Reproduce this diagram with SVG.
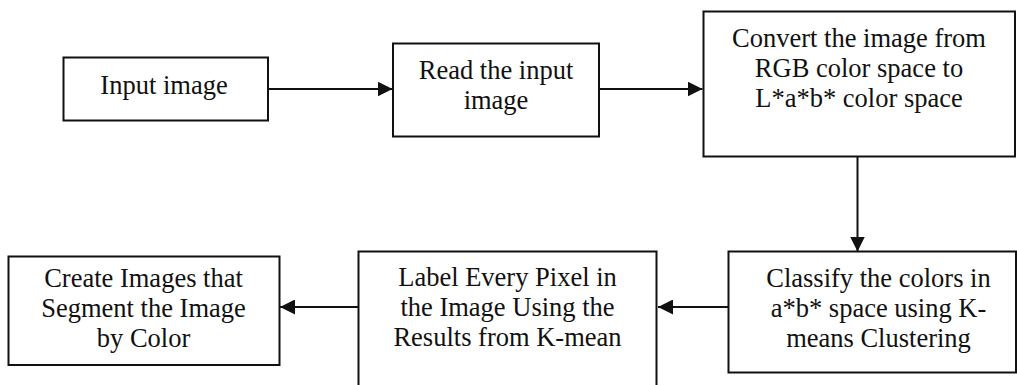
<svg xmlns="http://www.w3.org/2000/svg" width="1017" height="385" viewBox="0 0 1017 385">
  <style>
    .box { fill: #ffffff; stroke: #111111; stroke-width: 2; }
    .lbl { font-family: "Liberation Serif", "Times New Roman", serif; font-size: 26.5px; fill: #111111; text-anchor: middle; }
    .edge { fill: none; stroke: #111111; stroke-width: 2; marker-end: url(#head); }
  </style>
  <defs>
    <marker id="head" markerUnits="userSpaceOnUse" markerWidth="15" markerHeight="15" refX="15" refY="7.5" orient="auto">
      <path d="M0,0 L15,7.5 L0,15 Z" fill="#111111"/>
    </marker>
  </defs>
  <rect width="1017" height="385" fill="#ffffff"/>

  <g id="connectors">
    <line class="edge" x1="268" y1="89" x2="392.5" y2="89"/>
    <line class="edge" x1="599" y1="89" x2="702.5" y2="89"/>
    <line class="edge" x1="857.5" y1="156.5" x2="857.5" y2="251.5"/>
    <line class="edge" x1="728" y1="307" x2="658" y2="307"/>
    <line class="edge" x1="358" y1="307" x2="280" y2="307"/>
  </g>

  <g id="input-image">
    <rect class="box" x="63.5" y="57.5" width="204.5" height="63"/>
    <text class="lbl" x="164" y="93.5">Input image</text>
  </g>

  <g id="read-image">
    <rect class="box" x="393" y="43.5" width="206" height="93"/>
    <text class="lbl" x="496" y="78.5">Read the input</text>
    <text class="lbl" x="496" y="108.5">image</text>
  </g>

  <g id="convert-lab">
    <rect class="box" x="703.5" y="11.5" width="311.5" height="145"/>
    <text class="lbl" x="859" y="46.5">Convert the image from</text>
    <text class="lbl" x="859" y="76.5">RGB color space to</text>
    <text class="lbl" x="859" y="106.5">L*a*b* color space</text>
  </g>

  <g id="classify-kmeans">
    <rect class="box" x="728.5" y="251.5" width="287.5" height="121"/>
    <text class="lbl" x="878.5" y="286.5">Classify the colors in</text>
    <text class="lbl" x="878.5" y="316.5">a*b* space using K-</text>
    <text class="lbl" x="878.5" y="346.5">means Clustering</text>
  </g>

  <g id="label-pixels">
    <rect class="box" x="358.5" y="251.5" width="298" height="150"/>
    <text class="lbl" x="507.5" y="286">Label Every Pixel in</text>
    <text class="lbl" x="507.5" y="316">the Image Using the</text>
    <text class="lbl" x="507.5" y="346">Results from K-mean</text>
  </g>

  <g id="segment-by-color">
    <rect class="box" x="8.5" y="256.5" width="271" height="108.5"/>
    <text class="lbl" x="143.5" y="286.5">Create Images that</text>
    <text class="lbl" x="143.5" y="316.5">Segment the Image</text>
    <text class="lbl" x="143.5" y="346.5">by Color</text>
  </g>
</svg>
